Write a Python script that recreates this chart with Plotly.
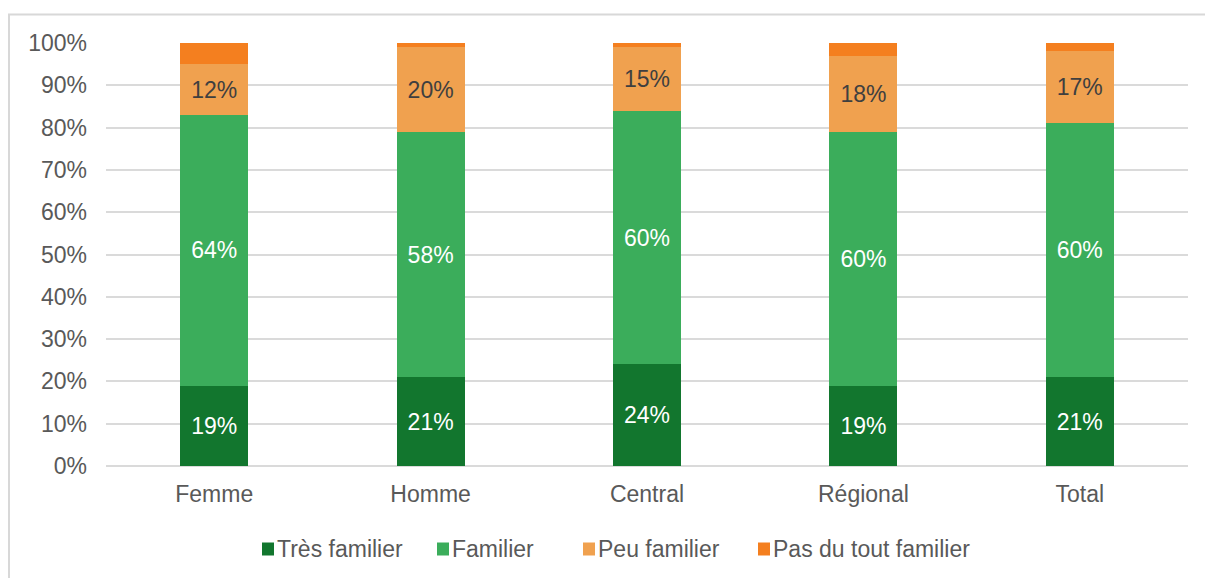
import plotly.graph_objects as go

# Survey groups and the share of respondents at each familiarity level (%)
categories = ["Femme", "Homme", "Central", "Régional", "Total"]
series_names = ["Très familier", "Familier", "Peu familier", "Pas du tout familier"]
tres_familier = [19, 21, 24, 19, 21]
familier = [64, 58, 60, 60, 60]
peu_familier = [12, 20, 15, 18, 17]
pas_du_tout = [5, 1, 1, 3, 2]

series_values = [tres_familier, familier, peu_familier, pas_du_tout]
colors = ["#12762e", "#3bad5b", "#f0a14f", "#f47f1f"]
label_colors = ["#ffffff", "#ffffff", "#3f3f3f", None]

FONT = "Liberation Sans, Arial, sans-serif"
FS = 23

fig = go.Figure()
for name, vals, col, lcol in zip(series_names, series_values, colors, label_colors):
    fig.add_trace(go.Bar(
        x=categories,
        y=vals,
        name=name,
        marker=dict(color=col, line=dict(width=0)),
        text=[f"{v}%" for v in vals] if lcol else None,
        textposition="inside" if lcol else "none",
        insidetextanchor="middle",
        textangle=0,
        constraintext="none",
        textfont=dict(family=FONT, size=FS, color=lcol or "#000"),
        showlegend=False,
        hoverinfo="skip",
    ))

# Plot area geometry in pixels (used to place the frame and legend in paper units)
W, H = 1205, 578
ML, MR, MT, MB = 106, 17, 43, 112
PW, PH = W - ML - MR, H - MT - MB


def px_x(px):
    return (px - ML) / PW


def px_y(py):
    return (H - MB - py) / PH


shapes = [
    # light outer frame around the chart
    dict(type="rect", xref="paper", yref="paper",
         x0=px_x(9), x1=px_x(1225), y0=px_y(600), y1=px_y(14.5),
         line=dict(color="#d8d8d8", width=2), fillcolor="rgba(0,0,0,0)", layer="below"),
]
annotations = []

# Custom legend row: small square + label
legend_x = [262, 437, 583, 758]
legend_y = 549
for name, col, lx in zip(series_names, colors, legend_x):
    shapes.append(dict(type="rect", xref="paper", yref="paper",
                       x0=px_x(lx), x1=px_x(lx + 12),
                       y0=px_y(legend_y + 6.5), y1=px_y(legend_y - 6.5),
                       line=dict(width=0), fillcolor=col))
    annotations.append(dict(x=px_x(lx + 13), y=px_y(legend_y), xref="paper", yref="paper",
                            text=name, showarrow=False, xanchor="left", yanchor="middle",
                            font=dict(family=FONT, size=FS, color="#595959")))

fig.update_layout(
    width=W, height=H,
    margin=dict(l=ML, r=MR, t=MT, b=MB, pad=0),
    barmode="stack",
    bargap=0.686,
    plot_bgcolor="white",
    paper_bgcolor="white",
    font=dict(family=FONT, size=FS, color="#595959"),
    shapes=shapes,
    annotations=annotations,
    uniformtext=dict(mode=False),
)
fig.update_xaxes(
    showgrid=False, showline=False, ticks="",
    tickfont=dict(family=FONT, size=FS, color="#595959"),
    ticklabelstandoff=12,
)
fig.update_yaxes(
    range=[0, 100], dtick=10, ticksuffix="%",
    showgrid=True, gridcolor="#dadada", gridwidth=1.5,
    zeroline=True, zerolinecolor="#dadada", zerolinewidth=1.5,
    showline=False, ticks="",
    tickfont=dict(family=FONT, size=FS, color="#595959"),
    ticklabelstandoff=18,
)

fig.write_html("out.html")
